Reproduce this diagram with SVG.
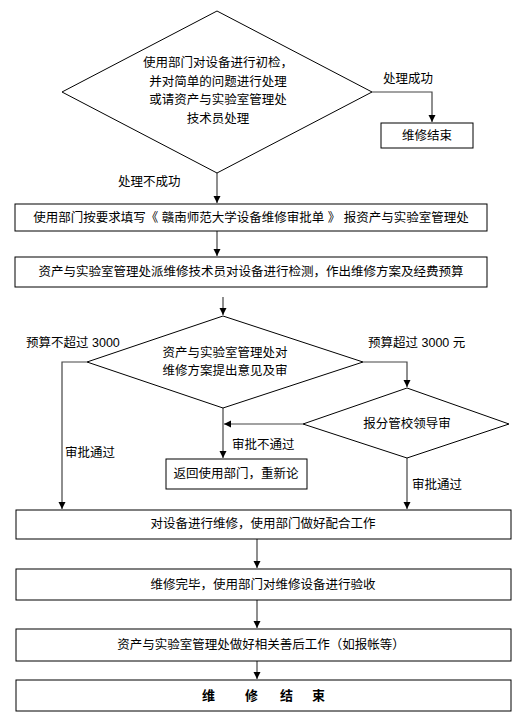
<svg xmlns="http://www.w3.org/2000/svg" width="525" height="724" viewBox="0 0 525 724">
<style>
text{font-family:"Liberation Sans","Noto Sans CJK SC",sans-serif;font-size:12.5px;fill:#000}
.c{text-anchor:middle}
.shape{fill:#fff;stroke:#000;stroke-width:1}
.ln{fill:none;stroke:#444;stroke-width:1.2}
.b{font-weight:bold;font-size:13px}
</style>
<defs>
<marker id="ah" markerWidth="8" markerHeight="8" refX="7" refY="4" orient="auto" markerUnits="userSpaceOnUse">
<path d="M0,0.5 L7,4 L0,7.5 Z" fill="#000"/>
</marker>
</defs>
<rect width="525" height="724" fill="#fff"/>
<g id="connectors">
<polyline class="ln" points="372,92 432,92 432,122" marker-end="url(#ah)"/>
<line class="ln" x1="217" y1="173" x2="217" y2="203" marker-end="url(#ah)"/>
<line class="ln" x1="217" y1="231" x2="217" y2="256" marker-end="url(#ah)"/>
<line class="ln" x1="223" y1="297" x2="223" y2="315" marker-end="url(#ah)"/>
<polyline class="ln" points="87,362 62,362 62,509" marker-end="url(#ah)"/>
<polyline class="ln" points="363,362 407,362 407,387" marker-end="url(#ah)"/>
<line class="ln" x1="223" y1="408" x2="223" y2="458" marker-end="url(#ah)"/>
<line class="ln" x1="303" y1="424" x2="224" y2="424" marker-end="url(#ah)"/>
<line class="ln" x1="407" y1="458" x2="407" y2="509" marker-end="url(#ah)"/>
<line class="ln" x1="257" y1="539" x2="257" y2="568" marker-end="url(#ah)"/>
<line class="ln" x1="257" y1="600" x2="257" y2="628" marker-end="url(#ah)"/>
<line class="ln" x1="257" y1="661" x2="257" y2="679" marker-end="url(#ah)"/>
<text x="383" y="83">处理成功</text>
<text x="118" y="186">处理不成功</text>
<text x="26" y="347">预算不超过 3000</text>
<text x="368" y="347">预算超过 3000 元</text>
<text x="65" y="457">审批通过</text>
<text x="232" y="449">审批不通过</text>
<text x="412" y="489">审批通过</text>
</g>
<g id="d1">
<polygon class="shape" points="217,11 372,92 217,173 62,92"/>
<text class="c" x="218" y="67">使用部门对设备进行初检，</text>
<text class="c" x="218" y="86">并对简单的问题进行处理</text>
<text class="c" x="218" y="104">或请资产与实验室管理处</text>
<text class="c" x="218" y="123">技术员处理</text>
</g>
<g id="end1">
<rect class="shape" x="381" y="123" width="92" height="25"/>
<text class="c" x="427" y="140">维修结束</text>
</g>
<g id="box2">
<rect class="shape" x="15" y="204" width="472" height="27"/>
<text class="c" x="251" y="222">使用部门按要求填写《 赣南师范大学设备维修审批单 》 报资产与实验室管理处</text>
</g>
<g id="box3">
<rect class="shape" x="15" y="257" width="472" height="30"/>
<text class="c" x="251" y="276">资产与实验室管理处派维修技术员对设备进行检测，作出维修方案及经费预算</text>
</g>
<g id="d2">
<polygon class="shape" points="223,316 363,362 223,408 87,362"/>
<text class="c" x="225" y="357">资产与实验室管理处对</text>
<text class="c" x="225" y="375">维修方案提出意见及审</text>
</g>
<g id="d3">
<polygon class="shape" points="407,388 509,424 407,458 303,424"/>
<text class="c" x="407" y="428">报分管校领导审</text>
</g>
<g id="back">
<rect class="shape" x="166" y="459" width="141" height="30"/>
<text class="c" x="236" y="478">返回使用部门，重新论</text>
</g>
<g id="box4">
<rect class="shape" x="16" y="510" width="495" height="29"/>
<text class="c" x="263" y="528">对设备进行维修，使用部门做好配合工作</text>
</g>
<g id="box5">
<rect class="shape" x="16" y="569" width="495" height="31"/>
<text class="c" x="263" y="589">维修完毕，使用部门对维修设备进行验收</text>
</g>
<g id="box6">
<rect class="shape" x="16" y="629" width="495" height="32"/>
<text class="c" x="261" y="649">资产与实验室管理处做好相关善后工作（如报帐等）</text>
</g>
<g id="end2">
<rect class="shape" x="16" y="680" width="495" height="31"/>
<text class="b" x="202 245 280 312" y="700">维修结束</text>
</g>
</svg>
